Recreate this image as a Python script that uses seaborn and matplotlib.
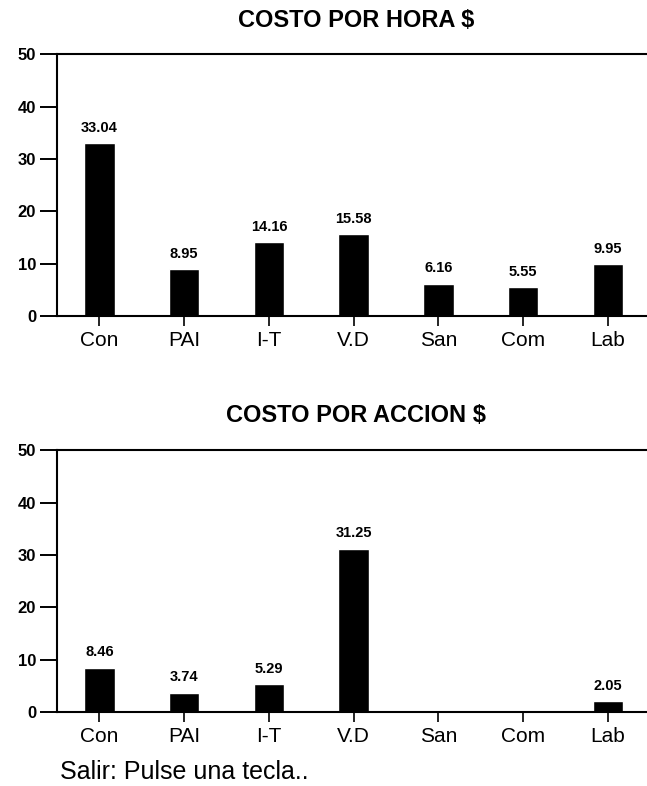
import matplotlib
matplotlib.use("Agg")
import matplotlib.pyplot as plt
import seaborn as sns
import pandas as pd

categories = ["Con", "PAI", "I-T", "V.D", "San", "Com", "Lab"]
costo_hora = [33.04, 8.95, 14.16, 15.58, 6.16, 5.55, 9.95]
costo_accion = [8.46, 3.74, 5.29, 31.25, 0.0, 0.0, 2.05]
y_ticks = [0, 10, 20, 30, 40, 50]
titles = ["COSTO POR HORA $", "COSTO POR ACCION $"]
footer = "Salir: Pulse una tecla.."

sns.set_theme(style="white")
plt.rcParams["font.family"] = ["Liberation Sans", "DejaVu Sans"]
plt.rcParams["text.color"] = "black"
plt.rcParams["axes.labelcolor"] = "black"
plt.rcParams["xtick.color"] = "black"
plt.rcParams["ytick.color"] = "black"

fig = plt.figure(figsize=(6.47, 7.86), dpi=100)
fig.patch.set_facecolor("white")

panels = [
    (costo_hora, [0.088, 0.598, 0.912, 0.333], 0.974),
    (costo_accion, [0.088, 0.094, 0.912, 0.333], 0.472),
]

for (values, rect, title_y), title in zip(panels, titles):
    ax = fig.add_axes(rect)
    df = pd.DataFrame({"cat": categories, "val": values})
    sns.barplot(data=df, x="cat", y="val", color="black", width=0.36,
                saturation=1, ax=ax)
    ax.set_xlim(-0.5, 6.46)
    ax.set_ylim(0, 50)
    ax.set_yticks(y_ticks)
    ax.set_yticklabels([str(t) for t in y_ticks], fontsize=12, fontweight="bold")
    ax.set_xlabel("")
    ax.set_ylabel("")
    ax.tick_params(axis="y", direction="out", length=12, width=1.4, pad=3,
                   left=True, colors="black")
    ax.tick_params(axis="x", direction="out", length=7, width=1.2, pad=4,
                   bottom=True, labelsize=15, colors="black")
    for side in ["left", "top", "bottom"]:
        ax.spines[side].set_visible(True)
        ax.spines[side].set_color("black")
        ax.spines[side].set_linewidth(1.5)
    ax.spines["right"].set_visible(False)
    labels = [f"{v:.2f}" if v > 0 else "" for v in values]
    ax.bar_label(ax.containers[0], labels=labels, padding=6, fontsize=10.5,
                 fontweight="bold", color="black")
    fig.text(0.55, title_y, title, ha="center", va="center", fontsize=17,
             fontweight="bold", color="black")

fig.text(0.093, 0.018, footer, ha="left", va="center", fontsize=18,
         color="black")

fig.savefig("out.png", dpi=100, facecolor="white")
